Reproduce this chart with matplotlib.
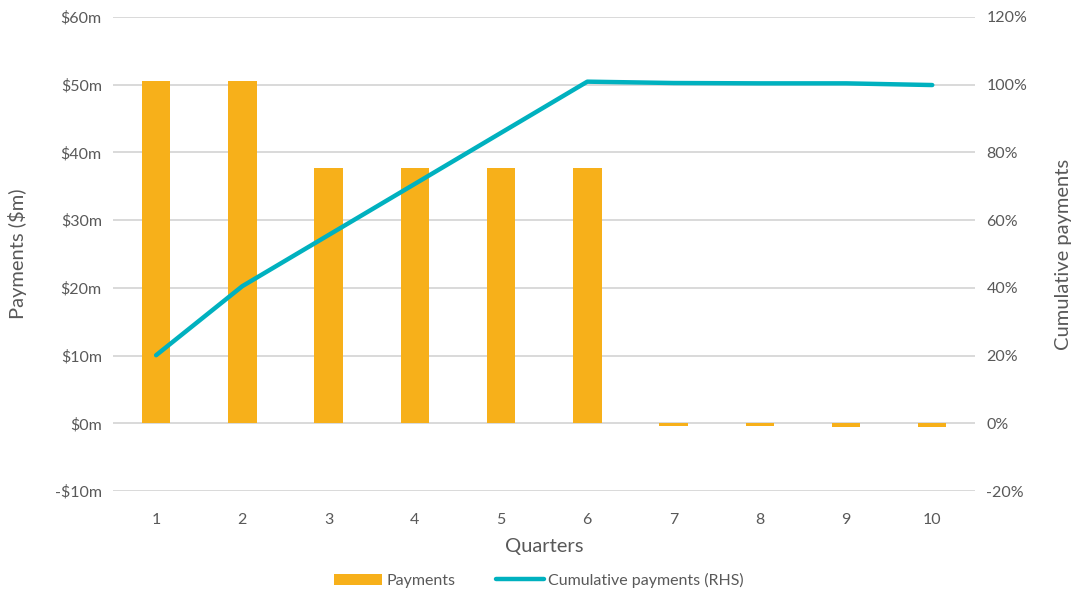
import matplotlib.pyplot as plt
from matplotlib.ticker import FuncFormatter

# chart data
quarters = [1, 2, 3, 4, 5, 6, 7, 8, 9, 10]
payments_m = [50.5, 50.5, 37.7, 37.7, 37.7, 37.7, -0.35, -0.35, -0.6, -0.6]
cumulative_pct = [20.1, 40.5, 55.6, 70.7, 85.8, 100.9, 100.5, 100.4, 100.4, 99.9]

BAR_COLOR = "#F7B01A"
LINE_COLOR = "#00B1BF"
GRID_COLOR = "#D3D3D3"
TEXT_COLOR = "#595959"

plt.rcParams["font.family"] = ["Lato", "DejaVu Sans"]

fig = plt.figure(figsize=(10.78, 5.92), dpi=100)
ax = fig.add_axes([0.1048, 0.1706, 0.80, 0.8007])
ax2 = ax.twinx()

bars = ax.bar(quarters, payments_m, width=0.33, color=BAR_COLOR, label="Payments", zorder=3)
line, = ax2.plot(quarters, cumulative_pct, color=LINE_COLOR, linewidth=3.2,
                 solid_capstyle="round", label="Cumulative payments (RHS)", zorder=4)

ax.set_xlim(0.5, 10.5)
ax.set_ylim(-10, 60)
ax2.set_ylim(-20, 120)
ax.set_yticks(range(-10, 61, 10))
ax2.set_yticks(range(-20, 121, 20))
ax.set_xticks(quarters)

ax.yaxis.set_major_formatter(FuncFormatter(lambda v, _: f"-${abs(v):.0f}m" if v < 0 else f"${v:.0f}m"))
ax2.yaxis.set_major_formatter(FuncFormatter(lambda v, _: f"{v:.0f}%"))

ax.grid(axis="y", color=GRID_COLOR, linewidth=1.2, zorder=0)
ax.set_axisbelow(True)
ax2.set_zorder(ax.get_zorder() + 1)
ax2.patch.set_visible(False)

for a in (ax, ax2):
    for s in a.spines.values():
        s.set_visible(False)
    a.tick_params(length=0, labelsize=11.5, colors=TEXT_COLOR, pad=8)
ax.tick_params(axis="x", pad=16)

ax.set_xlabel("Quarters", fontsize=14.5, color=TEXT_COLOR, labelpad=8)
ax.set_ylabel("Payments ($m)", fontsize=14.5, color=TEXT_COLOR, labelpad=20)
ax2.set_ylabel("Cumulative payments", fontsize=14.5, color=TEXT_COLOR, labelpad=20)

fig.legend(handles=[bars, line], loc="lower center", bbox_to_anchor=(0.5, -0.017), ncol=2,
           frameon=False, fontsize=11.5, labelcolor=TEXT_COLOR, handlelength=3.0,
           handletextpad=0.3, columnspacing=2.5)

fig.savefig("out.png", dpi=100)
